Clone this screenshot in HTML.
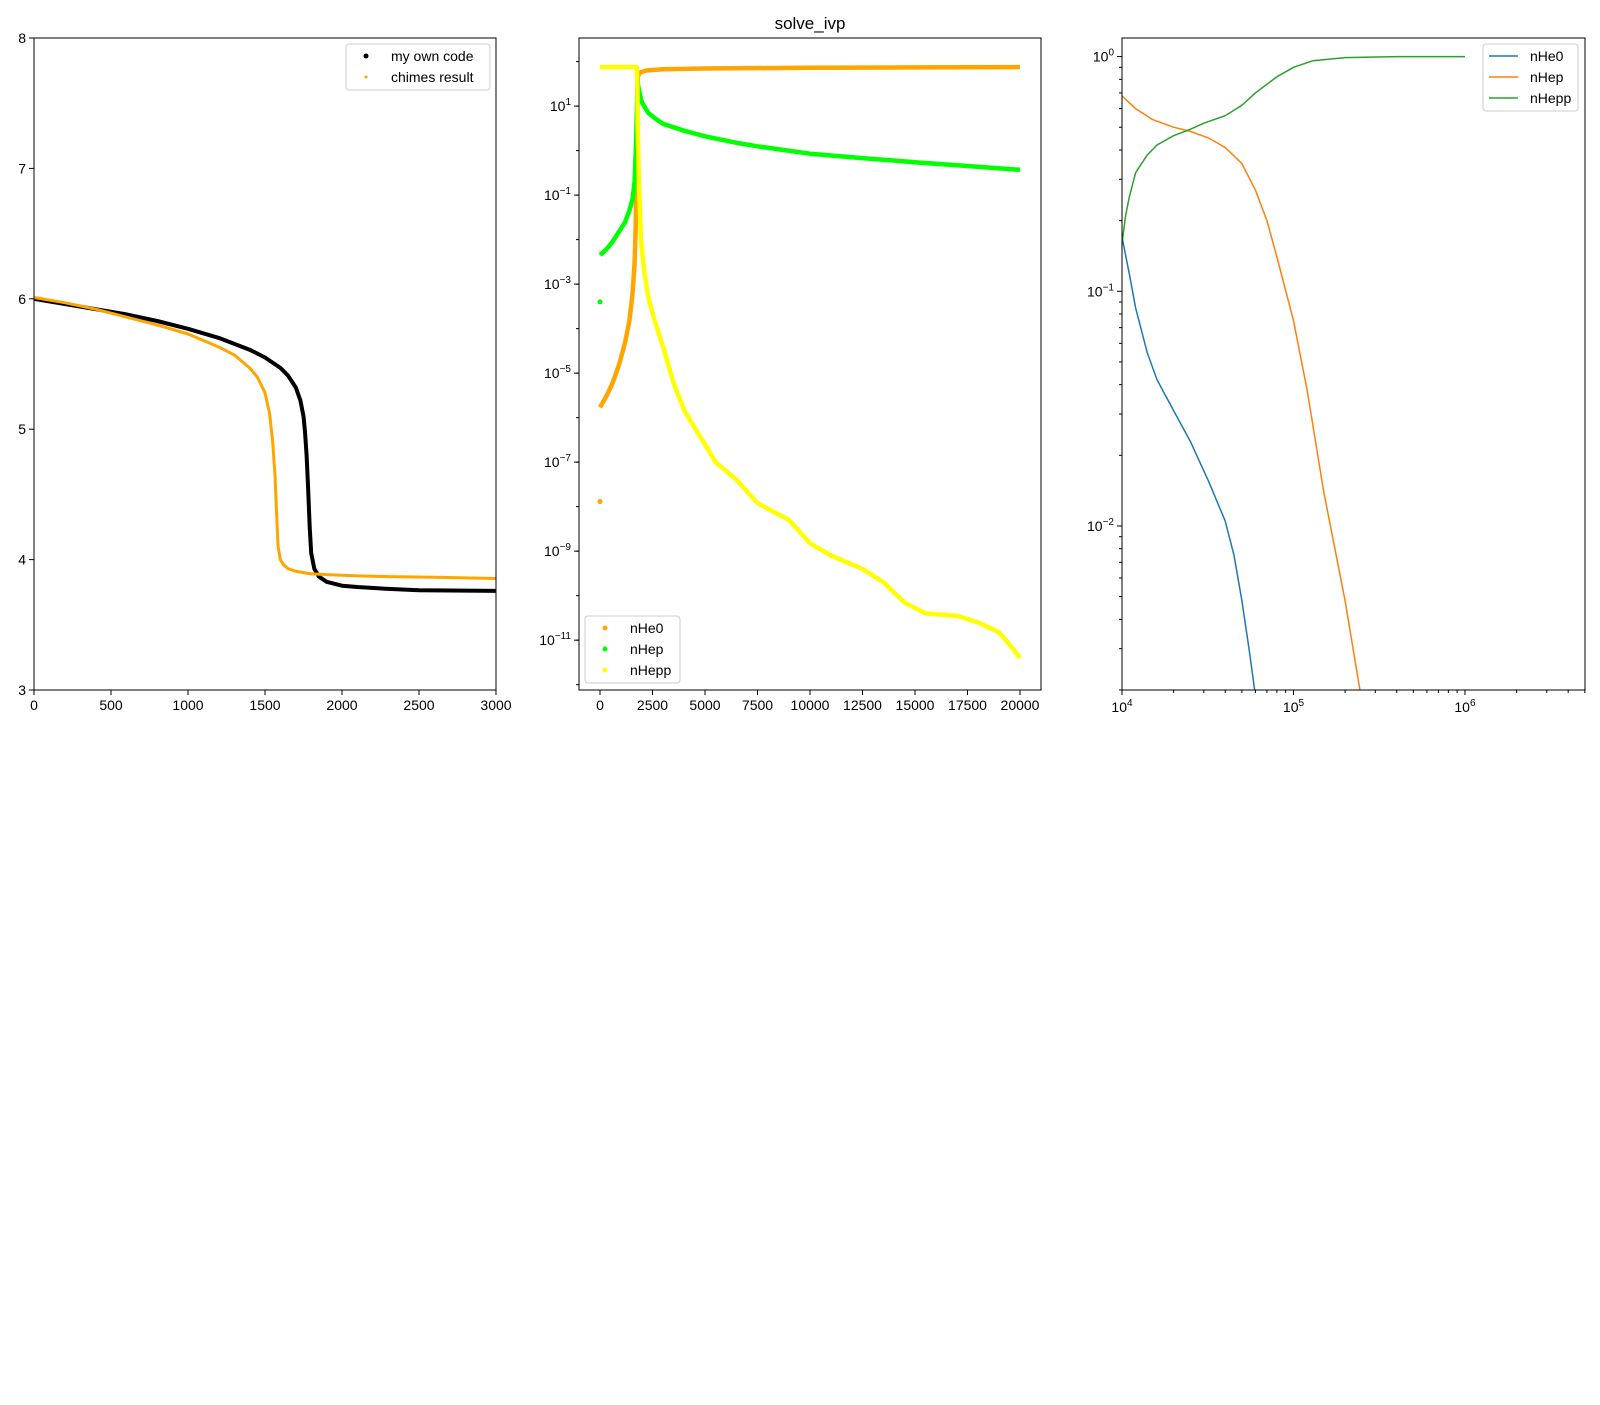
<!DOCTYPE html>
<html><head><meta charset="utf-8"><style>
body{margin:0;background:#fff;}
svg text{font-family:"Liberation Sans","DejaVu Sans",sans-serif;}
</style></head><body>
<svg id="fig" width="1600" height="1400" viewBox="0 0 1600 1400" xmlns="http://www.w3.org/2000/svg">
<rect width="1600" height="1400" fill="#fff"/>
<text x="810" y="29" font-size="17" text-anchor="middle">solve_ivp</text>
</svg>
<script>
// ---- Panel 1 data ----
const p1OwnX = [0,200,400,600,800,1000,1200,1400,1500,1600,1650,1700,1730,1750,1760,1770,1780,1790,1800,1820,1850,1900,2000,2100,2300,2500,3000];
const p1OwnY = [6.0,5.96,5.92,5.88,5.83,5.77,5.7,5.61,5.55,5.47,5.41,5.32,5.22,5.1,4.98,4.8,4.55,4.25,4.05,3.93,3.87,3.83,3.8,3.79,3.775,3.765,3.76];
const p1ChX = [0,200,400,600,800,1000,1200,1300,1400,1450,1500,1530,1550,1565,1575,1585,1600,1620,1650,1700,1800,1900,2100,2300,2600,3000];
const p1ChY = [6.01,5.97,5.92,5.86,5.8,5.73,5.63,5.57,5.47,5.4,5.28,5.12,4.9,4.65,4.35,4.1,4.0,3.96,3.93,3.91,3.89,3.885,3.875,3.87,3.865,3.855];
const p1XTicks = [0,500,1000,1500,2000,2500,3000];
const p1YTicks = [3,4,5,6,7,8];
// ---- Panel 2 data ----
const p2He0X = [0,300,600,900,1200,1400,1550,1650,1700,1740,1760,1780,1800,1850,1950,2200,3000,5000,10000,15000,20000];
const p2He0Y = [1.7e-6,3e-6,6e-6,1.5e-5,5e-5,1.5e-4,6e-4,3e-3,0.02,0.3,3,20,45,52,58,63,67,70,73,74,75];
const p2HepX = [0,300,600,900,1200,1400,1550,1650,1720,1760,1790,1810,1900,2000,2300,2700,3000,4000,5000,6500,7500,10000,12500,15000,17500,20000];
const p2HepY = [4.5e-3,6e-3,9e-3,0.015,0.025,0.045,0.08,0.2,1.5,10,40,30,18,12,7,5,4,2.8,2.1,1.5,1.25,0.85,0.68,0.55,0.45,0.37];
const p2HeppX = [0,500,1000,1500,1750,1780,1800,1850,1950,2100,2300,2600,3000,3500,4000,4500,5000,5500,6500,7500,9000,10000,11000,12500,13500,14500,15500,17000,18000,19000,19500,20000];
const p2HeppY = [75,75,75,75,75,30,3,0.2,0.01,2e-3,5e-4,1.5e-4,4e-5,6e-6,1.5e-6,6e-7,2.5e-7,1e-7,4e-8,1.2e-8,5e-9,1.5e-9,8e-10,4e-10,2e-10,7e-11,4e-11,3.5e-11,2.5e-11,1.5e-11,8e-12,4e-12];
const p2He0Extra = [[0,1.3e-8]];
const p2HepExtra = [[0,4e-4]];
const p2XTicks = [0,2500,5000,7500,10000,12500,15000,17500,20000];
const p2YExps = [1,-1,-3,-5,-7,-9,-11];
// ---- Panel 3 data ----
const p3He0X = [1e4,1.1e4,1.2e4,1.4e4,1.6e4,2e4,2.5e4,3.2e4,4e4,4.5e4,5e4,5.5e4,6e4];
const p3He0Y = [0.17,0.12,0.085,0.055,0.042,0.031,0.023,0.0155,0.0105,0.0075,0.0048,0.003,0.0019];
const p3HepX = [1e4,1.2e4,1.5e4,2e4,2.5e4,3.2e4,4e4,5e4,6e4,7e4,8e4,1e5,1.2e5,1.5e5,2e5,2.5e5];
const p3HepY = [0.68,0.6,0.54,0.5,0.48,0.45,0.41,0.35,0.27,0.2,0.14,0.075,0.038,0.014,0.0048,0.0018];
const p3HeppX = [1e4,1.05e4,1.1e4,1.2e4,1.4e4,1.6e4,2e4,2.5e4,3e4,4e4,5e4,6e4,8e4,1e5,1.3e5,2e5,4e5,1e6];
const p3HeppY = [0.16,0.21,0.25,0.32,0.38,0.42,0.46,0.49,0.52,0.56,0.62,0.7,0.82,0.9,0.96,0.99,1.0,1.0];
const p3XExps = [4,5,6];
const p3YExps = [0,-1,-2];

const NS="http://www.w3.org/2000/svg";
const svg=document.getElementById('fig');
function mk(tag,attrs,parent){const e=document.createElementNS(NS,tag);for(const k in attrs)e.setAttribute(k,attrs[k]);(parent||svg).appendChild(e);return e;}
function lin(d0,d1,r0,r1){return v=>r0+(v-d0)/(d1-d0)*(r1-r0);}
function logs(d0,d1,r0,r1){return v=>r0+(Math.log10(v)-Math.log10(d0))/(Math.log10(d1)-Math.log10(d0))*(r1-r0);}
function pathD(xs,ys,sx,sy){return xs.map((x,i)=>(i?'L':'M')+sx(x).toFixed(1)+','+sy(ys[i]).toFixed(1)).join('');}
function clip(id,L,T,R,B){const c=mk('clipPath',{id:id});mk('rect',{x:L,y:T,width:R-L,height:B-T},c);}
function frame(L,T,R,B){const r=mk('rect',{x:L,y:T,width:R-L,height:B-T,fill:'none',stroke:'#000','stroke-width':1});

}
function xtick(x,B,label,name){mk('line',{x1:x,y1:B,x2:x,y2:B+5,stroke:'#000'});
const t=mk('text',{x:x,y:B+20,'font-size':14,'text-anchor':'middle'});t.textContent=label;

}
function ytick(y,L,label,name){mk('line',{x1:L-5,y1:y,x2:L,y2:y,stroke:'#000'});
const t=mk('text',{x:L-8,y:y+5,'font-size':14,'text-anchor':'end'});t.textContent=label;

}
function pow10(x,y,e,anchor,name){const t=mk('text',{x:x,y:y,'font-size':14,'text-anchor':anchor});


t.appendChild(document.createTextNode('10'));
const s=mk('tspan',{dy:-6,'font-size':10},t);s.textContent=(e<0?'\u2212':'')+Math.abs(e);}

// ===== Panel 1 =====
(function(){
const L=34,T=38,R=496,B=690;
const sx=lin(0,3000,L,R), sy=lin(3,8,B,T);
clip('c1',L,T,R,B);
const g=mk('g',{'clip-path':'url(#c1)'});


const own=mk('path',{d:pathD(p1OwnX,p1OwnY,sx,sy),fill:'none',stroke:'#000','stroke-width':4,'stroke-linejoin':'round'},g);


const ch=mk('path',{d:pathD(p1ChX,p1ChY,sx,sy),fill:'none',stroke:'#ffa500','stroke-width':3,'stroke-linejoin':'round'},g);


frame(L,T,R,B);
p1XTicks.forEach(v=>xtick(sx(v),B,String(v),'x-tick-label'));
p1YTicks.forEach(v=>ytick(sy(v),L,String(v),'y-tick-label'));
const lg=mk('g',{});


mk('rect',{x:346,y:44,width:144,height:46,rx:3,fill:'#fff',stroke:'#ccc'},lg);
mk('circle',{cx:366,cy:56,r:2.5,fill:'#000'},lg);
mk('circle',{cx:366,cy:77,r:1.5,fill:'#ffa500'},lg);
const a=mk('text',{x:391,y:61,'font-size':14},lg);a.textContent='my own code';


const b=mk('text',{x:391,y:82,'font-size':14},lg);b.textContent='chimes result';


})();

// ===== Panel 2 =====
(function(){
const L=579,T=38,R=1041,B=690;
const sx=lin(-1000,21000,L,R), sy=logs(Math.pow(10,-12.12),Math.pow(10,2.53),B,T);
clip('c2',L,T,R,B);
const g=mk('g',{'clip-path':'url(#c2)'});


const s1=mk('path',{d:pathD(p2He0X,p2He0Y,sx,sy),fill:'none',stroke:'#ffa500','stroke-width':4.5,'stroke-linejoin':'round'},g);


const s2=mk('path',{d:pathD(p2HepX,p2HepY,sx,sy),fill:'none',stroke:'#00ff00','stroke-width':4.5,'stroke-linejoin':'round'},g);


const s3=mk('path',{d:pathD(p2HeppX,p2HeppY,sx,sy),fill:'none',stroke:'#ffff00','stroke-width':4.5,'stroke-linejoin':'round'},g);


p2He0Extra.forEach(p=>{const c=mk('circle',{cx:sx(p[0]),cy:sy(p[1]),r:2.5,fill:'#ffa500'},g);

});
p2HepExtra.forEach(p=>{const c=mk('circle',{cx:sx(p[0]),cy:sy(p[1]),r:2.5,fill:'#00ff00'},g);

});
frame(L,T,R,B);
p2XTicks.forEach(v=>xtick(sx(v),B,String(v),'x-tick-label'));
for(let e=-12;e<=2;e++){const y=sy(Math.pow(10,e));mk('line',{x1:L-3,y1:y,x2:L,y2:y,stroke:'#000'});}
p2YExps.forEach(e=>{const y=sy(Math.pow(10,e));mk('line',{x1:L-5,y1:y,x2:L,y2:y,stroke:'#000'});pow10(L-8,y+5,e,'end','y-tick-label');});
const lg=mk('g',{});


mk('rect',{x:585,y:616,width:95,height:67,rx:3,fill:'#fff',stroke:'#ccc'},lg);
[['nHe0','#ffa500'],['nHep','#00ff00'],['nHepp','#ffff00']].forEach((d,i)=>{
mk('circle',{cx:605,cy:628+i*21,r:2.5,fill:d[1]},lg);
const t=mk('text',{x:630,y:633+i*21,'font-size':14},lg);t.textContent=d[0];

});
})();

// ===== Panel 3 =====
(function(){
const L=1122,T=38,R=1585,B=690;
const sx=logs(1e4,Math.pow(10,6.70),L,R), sy=logs(0.002,1.2,B,T);
clip('c3',L,T,R,B);
const g=mk('g',{'clip-path':'url(#c3)'});


const a=mk('path',{d:pathD(p3He0X,p3He0Y,sx,sy),fill:'none',stroke:'#1f77b4','stroke-width':1.5},g);


const b=mk('path',{d:pathD(p3HepX,p3HepY,sx,sy),fill:'none',stroke:'#ff7f0e','stroke-width':1.5},g);


const c=mk('path',{d:pathD(p3HeppX,p3HeppY,sx,sy),fill:'none',stroke:'#2ca02c','stroke-width':1.5},g);


frame(L,T,R,B);
for(let e=4;e<=6;e++)for(let m=2;m<=9;m++){const v=m*Math.pow(10,e);if(v<=Math.pow(10,6.7)){const x=sx(v);mk('line',{x1:x,y1:B,x2:x,y2:B+3,stroke:'#000'});}}
for(let e=-3;e<=0;e++)for(let m=2;m<=9;m++){const v=m*Math.pow(10,e);if(v>=0.002&&v<=1.2){const y=sy(v);mk('line',{x1:L-3,y1:y,x2:L,y2:y,stroke:'#000'});}}
p3XExps.forEach(e=>{const x=sx(Math.pow(10,e));mk('line',{x1:x,y1:B,x2:x,y2:B+5,stroke:'#000'});pow10(x,B+22,e,'middle','x-tick-label');});
p3YExps.forEach(e=>{const y=sy(Math.pow(10,e));mk('line',{x1:L-5,y1:y,x2:L,y2:y,stroke:'#000'});pow10(L-8,y+5,e,'end','y-tick-label');});
const lg=mk('g',{});


mk('rect',{x:1483,y:44,width:95,height:67,rx:3,fill:'#fff',stroke:'#ccc'},lg);
[['nHe0','#1f77b4'],['nHep','#ff7f0e'],['nHepp','#2ca02c']].forEach((d,i)=>{
mk('line',{x1:1489,y1:56+i*21,x2:1518,y2:56+i*21,stroke:d[1],'stroke-width':1.5},lg);
const t=mk('text',{x:1530,y:61+i*21,'font-size':14},lg);t.textContent=d[0];

});
})();
</script>
</body></html>
